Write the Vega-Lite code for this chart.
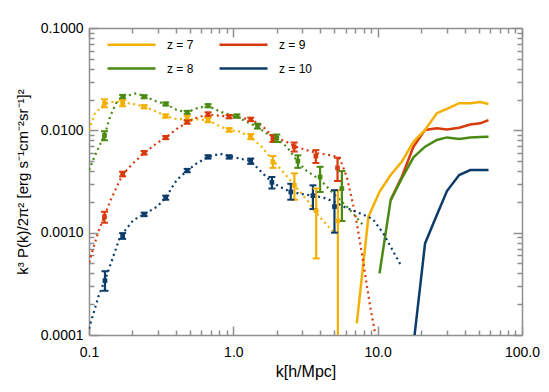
{
  "$schema": "https://vega.github.io/schema/vega-lite/v6.json",
  "width": 433,
  "height": 307,
  "autosize": "none",
  "padding": {"left": 89, "top": 28, "right": 27, "bottom": 57},
  "config": {
    "view": {"stroke": null},
    "font": "Liberation Sans",
    "axis": {
      "grid": false,
      "domainColor": "#8f8f8f",
      "domainWidth": 1.5,
      "tickColor": "#8f8f8f",
      "tickWidth": 1.5,
      "labelColor": "#000000",
      "titleColor": "#000000",
      "labelFont": "Liberation Sans",
      "titleFont": "Liberation Sans",
      "labelFlush": false,
      "labelOverlap": false,
      "labelBound": false,
      "titleFontWeight": "normal"
    }
  },
  "datasets": {
    "model": [
      {"z": "z = 7", "k": 0.1, "P": 0.0100}, {"z": "z = 7", "k": 0.110, "P": 0.0147}, {"z": "z = 7", "k": 0.128, "P": 0.0180}, {"z": "z = 7", "k": 0.150, "P": 0.0192}, {"z": "z = 7", "k": 0.171, "P": 0.0187}, {"z": "z = 7", "k": 0.203, "P": 0.0181}, {"z": "z = 7", "k": 0.241, "P": 0.0170}, {"z": "z = 7", "k": 0.295, "P": 0.0152}, {"z": "z = 7", "k": 0.340, "P": 0.0138}, {"z": "z = 7", "k": 0.405, "P": 0.0129}, {"z": "z = 7", "k": 0.479, "P": 0.0128}, {"z": "z = 7", "k": 0.558, "P": 0.0128}, {"z": "z = 7", "k": 0.668, "P": 0.0126}, {"z": "z = 7", "k": 0.811, "P": 0.0109}, {"z": "z = 7", "k": 0.935, "P": 0.0101}, {"z": "z = 7", "k": 1.11, "P": 0.0097}, {"z": "z = 7", "k": 1.32, "P": 0.0086}, {"z": "z = 7", "k": 1.57, "P": 0.0069}, {"z": "z = 7", "k": 1.88, "P": 0.0051}, {"z": "z = 7", "k": 2.22, "P": 0.0039}, {"z": "z = 7", "k": 2.65, "P": 0.0029}, {"z": "z = 7", "k": 3.23, "P": 0.0021}, {"z": "z = 7", "k": 3.79, "P": 0.00154}, {"z": "z = 7", "k": 4.44, "P": 0.00119}, {"z": "z = 7", "k": 4.94, "P": 0.00102},
      {"z": "z = 8", "k": 0.1, "P": 0.0041}, {"z": "z = 8", "k": 0.113, "P": 0.0062}, {"z": "z = 8", "k": 0.128, "P": 0.0089}, {"z": "z = 8", "k": 0.140, "P": 0.0136}, {"z": "z = 8", "k": 0.156, "P": 0.0191}, {"z": "z = 8", "k": 0.171, "P": 0.0213}, {"z": "z = 8", "k": 0.214, "P": 0.0230}, {"z": "z = 8", "k": 0.241, "P": 0.0216}, {"z": "z = 8", "k": 0.295, "P": 0.0191}, {"z": "z = 8", "k": 0.340, "P": 0.0181}, {"z": "z = 8", "k": 0.405, "P": 0.0158}, {"z": "z = 8", "k": 0.479, "P": 0.0150}, {"z": "z = 8", "k": 0.558, "P": 0.0164}, {"z": "z = 8", "k": 0.668, "P": 0.0174}, {"z": "z = 8", "k": 0.811, "P": 0.0152}, {"z": "z = 8", "k": 1.057, "P": 0.0136}, {"z": "z = 8", "k": 1.24, "P": 0.0121}, {"z": "z = 8", "k": 1.45, "P": 0.0109}, {"z": "z = 8", "k": 1.71, "P": 0.0093}, {"z": "z = 8", "k": 2.00, "P": 0.0083}, {"z": "z = 8", "k": 2.35, "P": 0.0069}, {"z": "z = 8", "k": 2.80, "P": 0.0049}, {"z": "z = 8", "k": 3.23, "P": 0.0040}, {"z": "z = 8", "k": 3.99, "P": 0.0033}, {"z": "z = 8", "k": 4.94, "P": 0.0024}, {"z": "z = 8", "k": 6.11, "P": 0.0018}, {"z": "z = 8", "k": 7.17, "P": 0.0014}, {"z": "z = 8", "k": 7.98, "P": 0.00117},
      {"z": "z = 9", "k": 0.1, "P": 0.00051}, {"z": "z = 9", "k": 0.116, "P": 0.00102}, {"z": "z = 9", "k": 0.128, "P": 0.00145}, {"z": "z = 9", "k": 0.1415, "P": 0.0021}, {"z": "z = 9", "k": 0.171, "P": 0.0037}, {"z": "z = 9", "k": 0.203, "P": 0.0048}, {"z": "z = 9", "k": 0.241, "P": 0.0060}, {"z": "z = 9", "k": 0.295, "P": 0.0075}, {"z": "z = 9", "k": 0.340, "P": 0.0085}, {"z": "z = 9", "k": 0.405, "P": 0.0103}, {"z": "z = 9", "k": 0.479, "P": 0.0120}, {"z": "z = 9", "k": 0.558, "P": 0.0133}, {"z": "z = 9", "k": 0.668, "P": 0.0143}, {"z": "z = 9", "k": 0.811, "P": 0.0139}, {"z": "z = 9", "k": 0.935, "P": 0.0136}, {"z": "z = 9", "k": 1.11, "P": 0.0133}, {"z": "z = 9", "k": 1.32, "P": 0.0128}, {"z": "z = 9", "k": 1.57, "P": 0.0112}, {"z": "z = 9", "k": 1.88, "P": 0.0087}, {"z": "z = 9", "k": 2.35, "P": 0.0077}, {"z": "z = 9", "k": 2.64, "P": 0.0070}, {"z": "z = 9", "k": 3.23, "P": 0.0064}, {"z": "z = 9", "k": 3.73, "P": 0.0060}, {"z": "z = 9", "k": 4.44, "P": 0.0058}, {"z": "z = 9", "k": 5.27, "P": 0.0055}, {"z": "z = 9", "k": 5.50, "P": 0.0052}, {"z": "z = 9", "k": 6.11, "P": 0.0035}, {"z": "z = 9", "k": 6.98, "P": 0.00154}, {"z": "z = 9", "k": 7.77, "P": 0.00063}, {"z": "z = 9", "k": 8.87, "P": 0.00019}, {"z": "z = 9", "k": 9.51, "P": 0.000112}, {"z": "z = 9", "k": 9.7, "P": 0.0001},
      {"z": "z = 10", "k": 0.1, "P": 0.000115}, {"z": "z = 10", "k": 0.116, "P": 0.000236}, {"z": "z = 10", "k": 0.133, "P": 0.000386}, {"z": "z = 10", "k": 0.164, "P": 0.00091}, {"z": "z = 10", "k": 0.203, "P": 0.00133}, {"z": "z = 10", "k": 0.241, "P": 0.00151}, {"z": "z = 10", "k": 0.295, "P": 0.00179}, {"z": "z = 10", "k": 0.340, "P": 0.00219}, {"z": "z = 10", "k": 0.405, "P": 0.00327}, {"z": "z = 10", "k": 0.479, "P": 0.00403}, {"z": "z = 10", "k": 0.558, "P": 0.00475}, {"z": "z = 10", "k": 0.668, "P": 0.0055}, {"z": "z = 10", "k": 0.811, "P": 0.0059}, {"z": "z = 10", "k": 0.935, "P": 0.0056}, {"z": "z = 10", "k": 1.11, "P": 0.0053}, {"z": "z = 10", "k": 1.32, "P": 0.0050}, {"z": "z = 10", "k": 1.57, "P": 0.0039}, {"z": "z = 10", "k": 1.85, "P": 0.0031}, {"z": "z = 10", "k": 2.22, "P": 0.0027}, {"z": "z = 10", "k": 2.50, "P": 0.0025}, {"z": "z = 10", "k": 2.90, "P": 0.0024}, {"z": "z = 10", "k": 3.56, "P": 0.0023}, {"z": "z = 10", "k": 4.21, "P": 0.0022}, {"z": "z = 10", "k": 5.02, "P": 0.0020}, {"z": "z = 10", "k": 5.79, "P": 0.0018}, {"z": "z = 10", "k": 7.57, "P": 0.00154}, {"z": "z = 10", "k": 8.63, "P": 0.00143}, {"z": "z = 10", "k": 9.36, "P": 0.00133}, {"z": "z = 10", "k": 10.96, "P": 0.00098}, {"z": "z = 10", "k": 12.5, "P": 0.00070}, {"z": "z = 10", "k": 14.7, "P": 0.00046}
    ],
    "meas": [
      {"z": "z = 7", "k": 0.128, "P": 0.0184, "lo": 0.0168, "hi": 0.0201}, {"z": "z = 7", "k": 0.171, "P": 0.0184, "lo": 0.0172, "hi": 0.0197}, {"z": "z = 7", "k": 0.241, "P": 0.0170, "lo": 0.0164, "hi": 0.0176}, {"z": "z = 7", "k": 0.340, "P": 0.0138, "lo": 0.0133, "hi": 0.0143}, {"z": "z = 7", "k": 0.479, "P": 0.0131, "lo": 0.0123, "hi": 0.0139}, {"z": "z = 7", "k": 0.668, "P": 0.0126, "lo": 0.0120, "hi": 0.0132}, {"z": "z = 7", "k": 0.935, "P": 0.0101, "lo": 0.0097, "hi": 0.0105}, {"z": "z = 7", "k": 1.32, "P": 0.0087, "lo": 0.0082, "hi": 0.0092}, {"z": "z = 7", "k": 1.88, "P": 0.0049, "lo": 0.0043, "hi": 0.0056}, {"z": "z = 7", "k": 2.65, "P": 0.0029, "lo": 0.0021, "hi": 0.0038}, {"z": "z = 7", "k": 3.75, "P": 0.00164, "lo": 0.00056, "hi": 0.0027}, {"z": "z = 7", "k": 5.30, "P": 0.0013, "lo": 0.00003, "hi": 0.0026},
      {"z": "z = 9", "k": 0.128, "P": 0.00143, "lo": 0.00125, "hi": 0.00160}, {"z": "z = 9", "k": 0.171, "P": 0.00374, "lo": 0.00355, "hi": 0.00394}, {"z": "z = 9", "k": 0.241, "P": 0.00604, "lo": 0.00580, "hi": 0.00628}, {"z": "z = 9", "k": 0.340, "P": 0.00853, "lo": 0.0082, "hi": 0.0088}, {"z": "z = 9", "k": 0.479, "P": 0.0121, "lo": 0.0116, "hi": 0.0126}, {"z": "z = 9", "k": 0.668, "P": 0.0143, "lo": 0.0137, "hi": 0.0150}, {"z": "z = 9", "k": 0.935, "P": 0.0136, "lo": 0.0131, "hi": 0.0141}, {"z": "z = 9", "k": 1.32, "P": 0.0128, "lo": 0.0123, "hi": 0.0133}, {"z": "z = 9", "k": 1.88, "P": 0.0083, "lo": 0.0077, "hi": 0.0090}, {"z": "z = 9", "k": 2.64, "P": 0.0069, "lo": 0.0062, "hi": 0.0076}, {"z": "z = 9", "k": 3.73, "P": 0.0056, "lo": 0.0048, "hi": 0.0064}, {"z": "z = 9", "k": 5.27, "P": 0.0043, "lo": 0.0032, "hi": 0.0054},
      {"z": "z = 8", "k": 0.128, "P": 0.0089, "lo": 0.0080, "hi": 0.0098}, {"z": "z = 8", "k": 0.171, "P": 0.0213, "lo": 0.0205, "hi": 0.0222}, {"z": "z = 8", "k": 0.241, "P": 0.0213, "lo": 0.0206, "hi": 0.0220}, {"z": "z = 8", "k": 0.340, "P": 0.0181, "lo": 0.0175, "hi": 0.0187}, {"z": "z = 8", "k": 0.479, "P": 0.0150, "lo": 0.0145, "hi": 0.0155}, {"z": "z = 8", "k": 0.668, "P": 0.0174, "lo": 0.0168, "hi": 0.0180}, {"z": "z = 8", "k": 1.057, "P": 0.0138, "lo": 0.0133, "hi": 0.0143}, {"z": "z = 8", "k": 1.47, "P": 0.0110, "lo": 0.0104, "hi": 0.0116}, {"z": "z = 8", "k": 2.00, "P": 0.0084, "lo": 0.0077, "hi": 0.0091}, {"z": "z = 8", "k": 2.80, "P": 0.0050, "lo": 0.0043, "hi": 0.0057}, {"z": "z = 8", "k": 3.99, "P": 0.0035, "lo": 0.0025, "hi": 0.0044}, {"z": "z = 8", "k": 5.65, "P": 0.0027, "lo": 0.0013, "hi": 0.0040},
      {"z": "z = 10", "k": 0.129, "P": 0.00034, "lo": 0.00027, "hi": 0.00042}, {"z": "z = 10", "k": 0.171, "P": 0.00093, "lo": 0.00087, "hi": 0.00099}, {"z": "z = 10", "k": 0.241, "P": 0.00151, "lo": 0.00145, "hi": 0.00157}, {"z": "z = 10", "k": 0.340, "P": 0.00219, "lo": 0.0021, "hi": 0.0023}, {"z": "z = 10", "k": 0.479, "P": 0.00403, "lo": 0.0039, "hi": 0.0042}, {"z": "z = 10", "k": 0.668, "P": 0.0055, "lo": 0.0053, "hi": 0.0057}, {"z": "z = 10", "k": 0.935, "P": 0.0055, "lo": 0.0053, "hi": 0.0057}, {"z": "z = 10", "k": 1.32, "P": 0.0050, "lo": 0.0047, "hi": 0.0053}, {"z": "z = 10", "k": 1.85, "P": 0.0031, "lo": 0.0027, "hi": 0.0035}, {"z": "z = 10", "k": 2.50, "P": 0.0025, "lo": 0.0021, "hi": 0.0030}, {"z": "z = 10", "k": 3.56, "P": 0.0023, "lo": 0.0017, "hi": 0.0029}, {"z": "z = 10", "k": 5.02, "P": 0.0018, "lo": 0.0010, "hi": 0.0026}
    ],
    "sim": [
      {"z": "z = 9", "k": 12.3, "P": 0.00208}, {"z": "z = 9", "k": 14.7, "P": 0.00352}, {"z": "z = 9", "k": 17.7, "P": 0.00692}, {"z": "z = 9", "k": 21.3, "P": 0.0101}, {"z": "z = 9", "k": 25.7, "P": 0.01045}, {"z": "z = 9", "k": 30.2, "P": 0.0102}, {"z": "z = 9", "k": 36.7, "P": 0.0106}, {"z": "z = 9", "k": 43.8, "P": 0.0114}, {"z": "z = 9", "k": 51.3, "P": 0.0117}, {"z": "z = 9", "k": 58.6, "P": 0.0126},
      {"z": "z = 8", "k": 10.3, "P": 0.000400}, {"z": "z = 8", "k": 12.3, "P": 0.00208}, {"z": "z = 8", "k": 14.7, "P": 0.00339}, {"z": "z = 8", "k": 17.7, "P": 0.00544}, {"z": "z = 8", "k": 21.3, "P": 0.00692}, {"z": "z = 8", "k": 25.7, "P": 0.00804}, {"z": "z = 8", "k": 30.2, "P": 0.00853}, {"z": "z = 8", "k": 36.7, "P": 0.00822}, {"z": "z = 8", "k": 43.8, "P": 0.00853}, {"z": "z = 8", "k": 51.3, "P": 0.0086}, {"z": "z = 8", "k": 58.6, "P": 0.00867},
      {"z": "z = 7", "k": 7.17, "P": 0.000130}, {"z": "z = 7", "k": 8.63, "P": 0.00143}, {"z": "z = 7", "k": 10.3, "P": 0.00251}, {"z": "z = 7", "k": 12.3, "P": 0.00366}, {"z": "z = 7", "k": 14.7, "P": 0.00494}, {"z": "z = 7", "k": 17.7, "P": 0.00774}, {"z": "z = 7", "k": 21.3, "P": 0.0101}, {"z": "z = 7", "k": 25.7, "P": 0.0147}, {"z": "z = 7", "k": 30.2, "P": 0.0162}, {"z": "z = 7", "k": 36.7, "P": 0.0184}, {"z": "z = 7", "k": 43.8, "P": 0.0184}, {"z": "z = 7", "k": 51.3, "P": 0.0189}, {"z": "z = 7", "k": 58.6, "P": 0.0181},
      {"z": "z = 10", "k": 17.7, "P": 0.00008}, {"z": "z = 10", "k": 21.3, "P": 0.000785}, {"z": "z = 10", "k": 25.7, "P": 0.00149}, {"z": "z = 10", "k": 30.2, "P": 0.00255}, {"z": "z = 10", "k": 36.7, "P": 0.00366}, {"z": "z = 10", "k": 43.8, "P": 0.00409}, {"z": "z = 10", "k": 51.3, "P": 0.00409}, {"z": "z = 10", "k": 58.6, "P": 0.00409}
    ]
  },
  "layer": [
    {
      "data": {"name": "sim"},
      "mark": {"type": "line", "strokeWidth": 2.5, "clip": true},
      "encoding": {
        "x": {"field": "k", "type": "quantitative", "scale": {"type": "log", "domain": [0.1, 100], "nice": false}, "axis": null},
        "y": {"field": "P", "type": "quantitative", "scale": {"type": "log", "domain": [0.0001, 0.1], "nice": false}, "axis": null},
        "color": {"field": "z", "type": "nominal", "scale": {"domain": ["z = 7", "z = 8", "z = 9", "z = 10"], "range": ["#F4B000", "#4A8A13", "#D93A0C", "#0C3C6A"]},
          "legend": {"orient": "none", "legendX": 17, "legendY": 10, "columns": 2, "columnPadding": 20, "rowPadding": 11, "symbolType": "M-1,0H8.6", "symbolSize": 100, "symbolStrokeWidth": 2.5, "labelOffset": 48, "labelFontSize": 12, "labelFont": "Liberation Sans", "title": null, "padding": 0}}
      }
    },
    {
      "data": {"name": "model"},
      "mark": {"type": "line", "strokeDash": [2, 3.5], "strokeWidth": 2.2, "clip": true},
      "encoding": {
        "x": {"field": "k", "type": "quantitative", "scale": {"type": "log", "domain": [0.1, 100], "nice": false},
          "axis": {"orient": "bottom", "values": [0.1, 1, 10, 100], "format": ".1f", "tickSize": -9, "labelPadding": 19, "labelFontSize": 14, "title": "k[h/Mpc]", "titleFontSize": 16, "titlePadding": 4}},
        "y": {"field": "P", "type": "quantitative", "scale": {"type": "log", "domain": [0.0001, 0.1], "nice": false},
          "axis": {"orient": "left", "values": [0.0001, 0.001, 0.01, 0.1], "format": ".4f", "tickSize": -9, "labelPadding": 15, "labelFontSize": 14, "title": "k³ P(k)/2π² [erg s⁻¹cm⁻²sr⁻¹]²", "titleFontSize": 15, "titlePadding": 10}},
        "color": {"field": "z", "type": "nominal", "legend": null}
      }
    },
    {
      "data": {"name": "meas"},
      "mark": {"type": "rule", "strokeWidth": 2.2, "clip": true},
      "encoding": {
        "x": {"field": "k", "type": "quantitative", "scale": {"type": "log", "domain": [0.1, 100], "nice": false},
          "axis": {"orient": "top", "values": [0.1, 1, 10, 100], "labels": false, "tickSize": -9, "title": null}},
        "y": {"field": "lo", "type": "quantitative", "scale": {"type": "log", "domain": [0.0001, 0.1], "nice": false},
          "axis": {"orient": "right", "values": [0.0001, 0.001, 0.01, 0.1], "labels": false, "tickSize": -9, "title": null}},
        "y2": {"field": "hi"},
        "color": {"field": "z", "type": "nominal", "legend": null}
      }
    },
    {
      "data": {"name": "meas"},
      "mark": {"type": "tick", "orient": "horizontal", "size": 7, "thickness": 2, "opacity": 1, "clip": true},
      "encoding": {
        "x": {"field": "k", "type": "quantitative", "scale": {"type": "log", "domain": [0.1, 100], "nice": false},
          "axis": {"orient": "bottom", "values": [0.2, 0.3, 0.4, 0.5, 0.6, 0.7, 0.8, 0.9, 2, 3, 4, 5, 6, 7, 8, 9, 20, 30, 40, 50, 60, 70, 80, 90], "labels": false, "domain": false, "tickSize": -5, "title": null}},
        "y": {"field": "lo", "type": "quantitative", "scale": {"type": "log", "domain": [0.0001, 0.1], "nice": false},
          "axis": {"orient": "left", "values": [0.0002, 0.0003, 0.0004, 0.0005, 0.0006, 0.0007, 0.0008, 0.0009, 0.002, 0.003, 0.004, 0.005, 0.006, 0.007, 0.008, 0.009, 0.02, 0.03, 0.04, 0.05, 0.06, 0.07, 0.08, 0.09], "labels": false, "domain": false, "tickSize": -5, "title": null}},
        "color": {"field": "z", "type": "nominal", "legend": null}
      }
    },
    {
      "data": {"name": "meas"},
      "mark": {"type": "tick", "orient": "horizontal", "size": 7, "thickness": 2, "opacity": 1, "clip": true},
      "encoding": {
        "x": {"field": "k", "type": "quantitative", "scale": {"type": "log", "domain": [0.1, 100], "nice": false},
          "axis": {"orient": "top", "values": [0.2, 0.3, 0.4, 0.5, 0.6, 0.7, 0.8, 0.9, 2, 3, 4, 5, 6, 7, 8, 9, 20, 30, 40, 50, 60, 70, 80, 90], "labels": false, "domain": false, "tickSize": -5, "title": null}},
        "y": {"field": "hi", "type": "quantitative", "scale": {"type": "log", "domain": [0.0001, 0.1], "nice": false},
          "axis": {"orient": "right", "values": [0.0002, 0.0003, 0.0004, 0.0005, 0.0006, 0.0007, 0.0008, 0.0009, 0.002, 0.003, 0.004, 0.005, 0.006, 0.007, 0.008, 0.009, 0.02, 0.03, 0.04, 0.05, 0.06, 0.07, 0.08, 0.09], "labels": false, "domain": false, "tickSize": -5, "title": null}},
        "color": {"field": "z", "type": "nominal", "legend": null}
      }
    },
    {
      "data": {"name": "meas"},
      "mark": {"type": "square", "size": 22, "filled": true, "opacity": 1, "clip": true},
      "encoding": {
        "x": {"field": "k", "type": "quantitative", "scale": {"type": "log", "domain": [0.1, 100], "nice": false}, "axis": null},
        "y": {"field": "P", "type": "quantitative", "scale": {"type": "log", "domain": [0.0001, 0.1], "nice": false}, "axis": null},
        "color": {"field": "z", "type": "nominal", "legend": null}
      }
    }
  ],
  "resolve": {"axis": {"x": "independent", "y": "independent"}}
}
